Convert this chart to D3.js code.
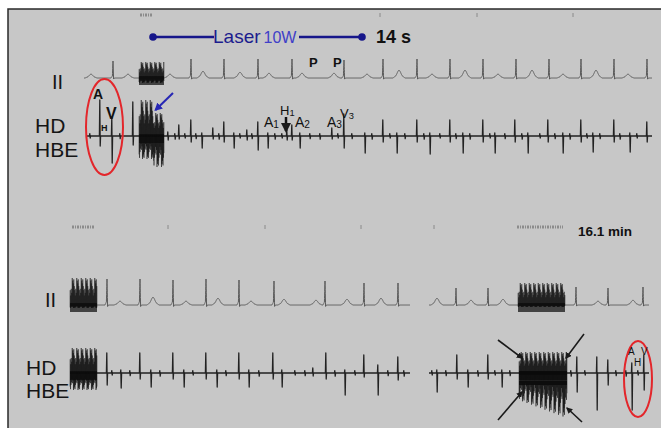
<!DOCTYPE html>
<html>
<head>
<meta charset="utf-8">
<script src="https://cdn.jsdelivr.net/npm/d3@7"></script>
<style>
  body { margin: 0; background: #fff; }
  svg { display: block; font-family: "Liberation Sans", Arial, sans-serif; }
</style>
</head>
<body>
<div id="chart"></div>
<script>

// ---- data (time in ms from left edge of each strip, amplitude in mV) ----

// top strip, lead II
const topRTimes = [290, 1070, 1400, 1740, 2080, 2600, 2990, 3330, 3660, 3990, 4320, 4650, 4970, 5300, 5630];
const topRAmps  = [0.85, 0.95, 0.95, 0.95, 0.95, 0.9, 0.95, 0.95, 0.95, 0.95, 0.95, 0.95, 0.95, 0.95, 0.95];
const topWaveTimes = [70, 440, 860, 1190, 1560, 1850, 2180, 2500, 2830, 3150, 3480, 3810, 4140, 4480, 4790, 5120, 5440];
const topWaveAmps  = [0.2, 0.2, 0.2, 0.35, 0.3, 0.25, 0.25, 0.25, 0.2, 0.4, 0.2, 0.4, 0.2, 0.4, 0.2, 0.4, 0.2];

// top strip, His bundle electrogram
const topHbeTimes = [160, 280, 490, 840, 950, 1070, 1180, 1290, 1400, 1500, 1630, 1740, 1840, 2030, 2080, 2160, 2480, 2600,
                     2810, 2990, 3130, 3330, 3460, 3660, 3790, 3990, 4110, 4310, 4440, 4640, 4790, 4970, 5090, 5300, 5460, 5630];
const topHbeUp   = [1.8, 0.95, 1.7, 0.2, 0.55, 0.8, 0.15, 0.4, 0.7, 0.15, 0.3, 0.7, 0.15, 0.3, 0.55, 0.15, 0.4, 1.1,
                     0.15, 0.8, 0.15, 0.8, 0.15, 0.8, 0.15, 0.8, 0.15, 0.8, 0.15, 0.8, 0.15, 0.8, 0.15, 0.8, 0.15, 0.7];
const topHbeDown = [0.5, 1.35, 0.45, 0.2, 0.15, 0.3, 0.6, 0.15, 0.3, 0.6, 0.2, 0.7, 0.6, 0.2, 0.2, 0.6, 0.15, 0.6,
                     0.85, 0.3, 0.85, 0.3, 0.9, 0.3, 0.85, 0.3, 0.85, 0.3, 0.85, 0.3, 0.85, 0.3, 0.8, 0.3, 0.8, 0.3];
const topHbeMinor = [60, 360, 910, 1010, 1120, 1350, 1560, 1680, 1910, 1980, 2260, 2360, 2540, 2680, 2880, 3060, 3210,
                     3400, 3560, 3720, 3860, 4060, 4210, 4380, 4560, 4710, 4860, 5030, 5160, 5360, 5530];

// bottom strip (16.1 min), lead II
const botSegments = [[0, 3400], [3590, 5790]];
const botRTimes = [370, 700, 1030, 1360, 1690, 2040, 2550, 2940, 3280, 3860, 4180, 5060, 5380, 5730];
const botRAmps  = [1.3, 1.3, 1.25, 1.3, 1.25, 1.2, 1.2, 1.1, 1.1, 0.85, 0.85, 0.9, 0.85, 0.9];
const botWaveTimes = [500, 830, 1160, 1480, 1810, 2140, 2460, 2770, 3110, 3670, 4010, 4330, 5280, 5630];
const botWaveAmps  = [0.2, 0.4, 0.2, 0.35, 0.2, 0.3, 0.25, 0.3, 0.35, 0.35, 0.25, 0.3, 0.2, 0.25];

// bottom strip, His bundle electrogram
const botHbeTimes = [370, 510, 700, 810, 1030, 1140, 1360, 1470, 1690, 1790, 2030, 2120, 2430, 2560, 2750, 2940, 3080,
                     3280, 3670, 3870, 3980, 4180, 4320, 5070, 5270, 5380, 5620, 5740];
const botHbeUp   = [1.0, 0.15, 1.0, 0.15, 1.0, 0.15, 1.0, 0.15, 1.0, 0.15, 1.0, 0.15, 0.25, 1.0, 0.15, 0.9, 0.4,
                     0.8, 0.15, 0.9, 0.15, 0.9, 0.15, 0.8, 0.8, 0.65, 0.5, 0.9];
const botHbeDown = [0.6, 0.75, 0.3, 0.7, 0.3, 0.7, 0.3, 0.7, 0.3, 0.7, 0.3, 0.7, 0.15, 0.3, 1.1, 0.2, 1.1,
                     0.35, 0.95, 0.3, 0.7, 0.3, 0.7, 0.95, 1.85, 0.6, 1.85, 0.85];
const botHbeMinor = [420, 600, 900, 1230, 1560, 1890, 2250, 2350, 2650, 2850, 3180, 3340, 3620, 3760, 4080, 4250, 4400,
                     5010, 5150, 5460, 5560, 5680];

// ablation (laser) artefact bursts: [start, end, up, down, down at end]
const topIIBursts  = [[550, 800, 0.8, 0.25]];
const topHbeBursts = [[550, 695, 1.8, 1.15], [695, 800, 1.15, 1.55]];
const botIIBursts  = [[0, 270, 1.35, 0.15], [4480, 4950, 1.1, 0.1]];
const botHbeBursts = [[0, 270, 1.25, 0.85], [4490, 4970, 1.05, 1.35, 2.25]];

// time marks along the top of each strip
const topMarks = [2960, 3930, 4890];
const botMarks = [980, 1950, 2910, 3640];
const topEventMarks = [[560, 680]];
const botEventMarks = [[20, 250], [4470, 4930]];


// ---- dimensions ----

const dimensions = { width: 661, height: 428 };

const svg = d3.select("#chart")
    .append("svg")
    .attr("width", dimensions.width)
    .attr("height", dimensions.height);

const defs = svg.append("defs");
function arrowMarker(id, color) {
    defs.append("marker")
        .attr("id", id)
        .attr("viewBox", "0 0 10 10")
        .attr("refX", 8).attr("refY", 5)
        .attr("markerWidth", 4).attr("markerHeight", 4)
        .attr("orient", "auto")
        .append("path")
        .attr("d", "M0,0 L10,5 L0,10 z")
        .attr("fill", color);
}
arrowMarker("arrowBlue", "#2626b4");
arrowMarker("arrowBlack", "#1a1a1a");

// panel
svg.append("rect").attr("width", dimensions.width).attr("height", dimensions.height).attr("fill", "#fff");
svg.append("rect").attr("x", 8).attr("y", 9).attr("width", 653).attr("height", 419).attr("fill", "#c7c7c7");
svg.append("path").attr("d", "M8,428 V9 H661").attr("fill", "none").attr("stroke", "#2a2a2a").attr("stroke-width", 1.5);


// ---- scales ----

const xTop = d3.scaleLinear().domain([0, 5680]).range([84, 652]);
const xBot = d3.scaleLinear().domain([0, 5820]).range([70, 652]);
const mv = 20; // px per mV
const yScale = base => d3.scaleLinear().domain([-1, 1]).range([base + mv, base - mv]);
const yTopII = yScale(78), yTopHbe = yScale(136), yBotII = yScale(305), yBotHbe = yScale(373);


// ---- waveform building ----

const qrsShape  = [[-20, 0], [-6, 0.12], [0, 1], [6, -0.06], [14, 0]];
const waveShape = [[-60, 0], [-30, 0.3], [-12, 0.8], [0, 1], [12, 0.8], [30, 0.3], [60, 0]];

function shapeAt(shape, dt) {
    if (dt <= shape[0][0] || dt >= shape[shape.length - 1][0]) return 0;
    for (let i = 1; i < shape.length; i++) {
        if (dt <= shape[i][0]) {
            const [t0, v0] = shape[i - 1], [t1, v1] = shape[i];
            return v0 + (v1 - v0) * (dt - t0) / (t1 - t0);
        }
    }
    return 0;
}

function hbeShape(up, down) {
    return [[-6, 0], [-2, up], [2, -down], [6, 0]];
}

function buildTrace(events, t0, t1) {
    const pts = [];
    for (let t = t0; t <= t1; t += 1) {
        let v = 0;
        events.forEach(e => {
            const dt = t - e.t;
            if (dt > -70 && dt < 70) v += shapeAt(e.shape, dt) * e.a;
        });
        pts.push([t, v]);
    }
    return pts;
}

function iiEvents(rT, rA, wT, wA) {
    return rT.map((t, i) => ({ t, a: rA[i], shape: qrsShape }))
        .concat(wT.map((t, i) => ({ t, a: wA[i], shape: waveShape })));
}

function hbeEvents(times, up, down, minor) {
    return times.map((t, i) => ({ t, a: 1, shape: hbeShape(up[i], down[i]) }))
        .concat(minor.map((t, i) => ({ t, a: 1, shape: hbeShape(0.12, 0.1 + (i % 3) * 0.03) })));
}

function drawTrace(x, y, pts, color, width) {
    svg.append("path")
        .datum(pts)
        .attr("d", d3.line().x(d => x(d[0])).y(d => y(d[1])))
        .attr("fill", "none")
        .attr("stroke", color)
        .attr("stroke-width", width)
        .attr("stroke-linejoin", "round");
}

// artefact burst: dense zig-zag between envelope limits
const depth = [1, 0.55, 0.9, 0.35, 0.8, 0.6, 0.95, 0.45, 0.7];
function drawBurst(x, y, b, color) {
    const [s, e, up, down, downEnd] = b;
    const pts = [];
    let i = 0;
    for (let t = s; t <= e; t += 2.5, i++) {
        const f = (t - s) / (e - s);
        const dn = downEnd === undefined ? down : down + (downEnd - down) * f;
        pts.push([t, i % 2 ? up * depth[i % depth.length] : -dn * depth[(i + 4) % depth.length]]);
    }
    svg.append("path")
        .datum(pts)
        .attr("d", d3.line().x(d => x(d[0])).y(d => y(d[1])))
        .attr("fill", "none")
        .attr("stroke", color)
        .attr("stroke-width", 0.6)
        .attr("stroke-opacity", 0.8);
    // darker core around the baseline
    svg.append("rect")
        .attr("x", x(s)).attr("width", x(e) - x(s))
        .attr("y", y(0.1)).attr("height", y(-0.35) - y(0.1))
        .attr("fill", "#0a0a0a").attr("opacity", 0.7);
}


// ---- top strip ----

drawTrace(xTop, yTopII, buildTrace(iiEvents(topRTimes, topRAmps, topWaveTimes, topWaveAmps), 0, 5680), "#5a5a5a", 1);
drawTrace(xTop, yTopHbe, buildTrace(hbeEvents(topHbeTimes, topHbeUp, topHbeDown, topHbeMinor), 20, 5680), "#222", 1.3);
topIIBursts.forEach(b => drawBurst(xTop, yTopII, b, "#111"));
topHbeBursts.forEach(b => drawBurst(xTop, yTopHbe, b, "#0d0d0d"));

// ---- bottom strip ----

const botII = iiEvents(botRTimes, botRAmps, botWaveTimes, botWaveAmps);
const botHbe = hbeEvents(botHbeTimes, botHbeUp, botHbeDown, botHbeMinor);
botSegments.forEach(([s, e]) => {
    drawTrace(xBot, yBotII, buildTrace(botII, s, e), "#5a5a5a", 1);
    drawTrace(xBot, yBotHbe, buildTrace(botHbe, s, e), "#222", 1.3);
});
botIIBursts.forEach(b => drawBurst(xBot, yBotII, b, "#111"));
botHbeBursts.forEach(b => drawBurst(xBot, yBotHbe, b, "#0d0d0d"));

// dark bands inside the late burst
[0, -0.5].forEach(v => {
    svg.append("rect")
        .attr("x", xBot(4490)).attr("width", xBot(4970) - xBot(4490))
        .attr("y", yBotHbe(v) - 2).attr("height", 4)
        .attr("fill", "#0a0a0a").attr("opacity", 0.85);
});


// ---- time marks ----

function drawMarks(x, marks, events, yTick) {
    svg.selectAll(null).data(marks).join("line")
        .attr("x1", d => x(d)).attr("x2", d => x(d))
        .attr("y1", yTick - 2).attr("y2", yTick + 2)
        .attr("stroke", "#8a8a8a").attr("stroke-width", 1);
    events.forEach(([s, e]) => {
        svg.append("line")
            .attr("x1", x(s)).attr("x2", x(e))
            .attr("y1", yTick).attr("y2", yTick)
            .attr("stroke", "#8c8c8c").attr("stroke-width", 3)
            .attr("stroke-dasharray", "2,1,1,1");
    });
}
drawMarks(xTop, topMarks, topEventMarks, 15);
drawMarks(xBot, botMarks, botEventMarks, 227);


// ---- laser bar ----

svg.append("line").attr("x1", 153).attr("x2", 214).attr("y1", 37).attr("y2", 37)
    .attr("stroke", "#16168a").attr("stroke-width", 2.5);
svg.append("line").attr("x1", 299).attr("x2", 362).attr("y1", 37).attr("y2", 37)
    .attr("stroke", "#16168a").attr("stroke-width", 2.5);
[153, 362].forEach(cx => svg.append("circle").attr("cx", cx).attr("cy", 37).attr("r", 3.8).attr("fill", "#16168a"));
const laserText = svg.append("text").attr("x", 213).attr("y", 43);
laserText.append("tspan").text("Laser").style("font-size", "19px").attr("fill", "#1c1c8e");
laserText.append("tspan").attr("dx", 3).text("10W").style("font-size", "16px").attr("fill", "#4040c8");
svg.append("text").attr("x", 376).attr("y", 43).text("14 s")
    .style("font-size", "18px").style("font-weight", "bold").attr("fill", "#111");
svg.append("text").attr("x", 578).attr("y", 236).text("16.1 min")
    .style("font-size", "13.5px").style("font-weight", "bold").attr("fill", "#111");


// ---- lead labels ----

const leadLabels = [
    ["II", 52, 89, 20], ["HD", 35, 133, 21], ["HBE", 35, 157, 21],
    ["II", 45, 307, 20], ["HD", 26, 375, 21], ["HBE", 26, 398, 21],
];
leadLabels.forEach(([t, x, y, s]) => {
    svg.append("text").attr("x", x).attr("y", y).text(t)
        .style("font-size", s + "px").attr("fill", "#151515");
});


// ---- annotations ----

function label(x, y, t, sub, size, bold) {
    const el = svg.append("text").attr("x", x).attr("y", y)
        .style("font-size", size + "px").style("font-weight", bold ? "bold" : "normal").attr("fill", "#111");
    el.append("tspan").text(t);
    if (sub) el.append("tspan").attr("dy", 1).style("font-size", (size * 0.72) + "px").text(sub);
}

// top: AH / HV labels
label(xTop(1800), yTopHbe(0.45), "A", "1", 14);
label(xTop(1960), yTopHbe(1.05), "H", "1", 13);
label(xTop(2110), yTopHbe(0.45), "A", "2", 14);
label(xTop(2430), yTopHbe(0.45), "A", "3", 14);
label(xTop(2560), yTopHbe(0.9), "V", "3", 13);
label(xTop(2250), yTopII(0.55), "P", null, 13, true);
label(xTop(2490), yTopII(0.55), "P", null, 13, true);
svg.append("line")
    .attr("x1", xTop(2020)).attr("x2", xTop(2020))
    .attr("y1", yTopHbe(0.95)).attr("y2", yTopHbe(0.25))
    .attr("stroke", "#111").attr("stroke-width", 2.5)
    .attr("marker-end", "url(#arrowBlack)");

// top: circled baseline complex
svg.append("ellipse").attr("cx", xTop(205)).attr("cy", yTopHbe(0.45)).attr("rx", 18.5).attr("ry", 48)
    .attr("fill", "none").attr("stroke", "#e3262b").attr("stroke-width", 2);
label(xTop(90), yTopHbe(1.85), "A", null, 14, true);
label(xTop(220), yTopHbe(0.85), "V", null, 16, true);
label(xTop(170), yTopHbe(0.25), "H", null, 9, true);

// top: blue arrow at onset of block
svg.append("line")
    .attr("x1", xTop(890)).attr("y1", yTopHbe(2.15))
    .attr("x2", xTop(715)).attr("y2", yTopHbe(1.3))
    .attr("stroke", "#2626b4").attr("stroke-width", 2)
    .attr("marker-end", "url(#arrowBlue)");

// bottom: circled complex
svg.append("ellipse").attr("cx", xBot(5680)).attr("cy", yBotHbe(-0.3)).attr("rx", 14).attr("ry", 38)
    .attr("fill", "none").attr("stroke", "#e3262b").attr("stroke-width", 2);
label(xBot(5580), yBotHbe(0.9), "A", null, 10);
label(xBot(5640), yBotHbe(0.35), "H", null, 10);
label(xBot(5710), yBotHbe(0.9), "V", null, 10);

// bottom: black arrows around the burst
const burstArrows = [
    [4280, 1.65, 4520, 0.75], [5140, 1.95, 4960, 0.75],
    [4280, -2.35, 4520, -0.95], [5120, -2.45, 4970, -1.75],
];
burstArrows.forEach(([t1, v1, t2, v2]) => {
    svg.append("line")
        .attr("x1", xBot(t1)).attr("y1", yBotHbe(v1))
        .attr("x2", xBot(t2)).attr("y2", yBotHbe(v2))
        .attr("stroke", "#1a1a1a").attr("stroke-width", 1.6)
        .attr("marker-end", "url(#arrowBlack)");
});

</script>
</body>
</html>
